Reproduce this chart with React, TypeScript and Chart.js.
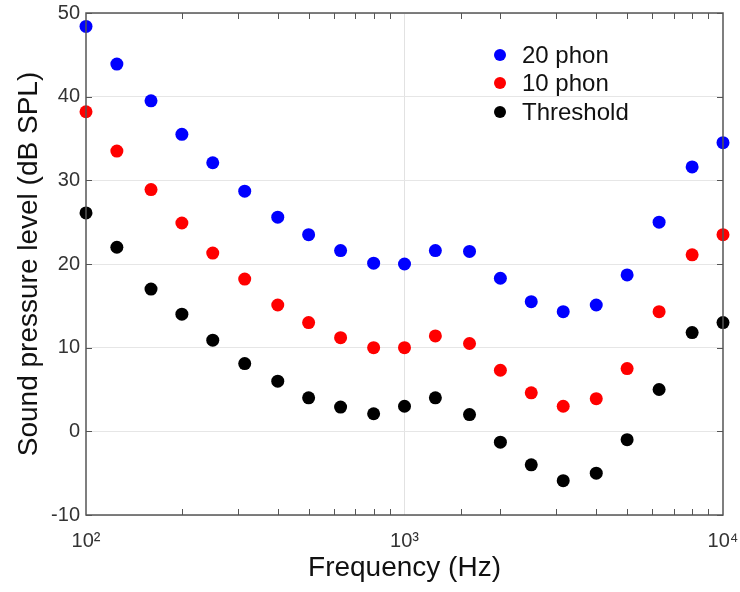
import React, { useEffect, useRef } from "react";
import { Chart, registerables } from "chart.js";

Chart.register(...registerables);

const frequencies = [100, 125, 160, 200, 250, 315, 400, 500, 630, 800, 1000, 1250, 1600, 2000, 2500, 3150, 4000, 5000, 6300, 8000, 10000];
const phon20 = [48.4, 43.9, 39.5, 35.5, 32.1, 28.7, 25.6, 23.5, 21.6, 20.1, 20.0, 21.6, 21.5, 18.3, 15.5, 14.3, 15.1, 18.7, 25.0, 31.6, 34.5];
const phon10 = [38.2, 33.5, 28.9, 24.9, 21.3, 18.2, 15.1, 13.0, 11.2, 10.0, 10.0, 11.4, 10.5, 7.3, 4.6, 3.0, 3.9, 7.5, 14.3, 21.1, 23.5];
const threshold = [26.1, 22.0, 17.0, 14.0, 10.9, 8.1, 6.0, 4.0, 2.9, 2.1, 3.0, 4.0, 2.0, -1.3, -4.0, -5.9, -5.0, -1.0, 5.0, 11.8, 13.0];
const seriesLabels = ["20 phon", "10 phon", "Threshold"];
const seriesColors = ["#0000ff", "#ff0000", "#000000"];
const xTickLabels: Record<number, string> = { 100: "10²", 1000: "10³", 10000: "10⁴" };

const FONT = "'Liberation Sans', Arial, Helvetica, sans-serif";

const isPow10 = (v: number) => Math.abs(Math.log10(v) - Math.round(Math.log10(v))) < 1e-9;

const framePlugin = {
  id: "frame",
  afterDatasetsDraw(chart: any) {
    const { ctx, chartArea: a, scales } = chart;
    const xs = scales.x;
    const ys = scales.y;
    ctx.save();
    ctx.strokeStyle = "#555";
    ctx.lineWidth = 1;
    ctx.beginPath();
    xs.ticks.forEach((t: any) => {
      if (isPow10(t.value)) return;
      const px = Math.round(xs.getPixelForValue(t.value)) + 0.5;
      ctx.moveTo(px, a.bottom);
      ctx.lineTo(px, a.bottom - 6);
      ctx.moveTo(px, a.top);
      ctx.lineTo(px, a.top + 6);
    });
    ys.ticks.forEach((t: any) => {
      const py = Math.round(ys.getPixelForValue(t.value)) + 0.5;
      ctx.moveTo(a.right, py);
      ctx.lineTo(a.right - 6, py);
      ctx.moveTo(a.left, py);
      ctx.lineTo(a.left + 6, py);
    });
    ctx.stroke();
    ctx.lineWidth = 1.5;
    ctx.strokeStyle = "#555";
    ctx.strokeRect(a.left, a.top, a.right - a.left, a.bottom - a.top);
    ctx.restore();
  },
  afterDraw(chart: any) {
    const { ctx } = chart;
    ctx.save();
    ctx.font = `24px ${FONT}`;
    ctx.textBaseline = "middle";
    const lx = 500;
    const ly = [55, 83, 112];
    chart.data.datasets.forEach((ds: any, i: number) => {
      ctx.fillStyle = ds.backgroundColor;
      ctx.beginPath();
      ctx.arc(lx, ly[i], 6, 0, Math.PI * 2);
      ctx.fill();
      ctx.fillStyle = "#111";
      ctx.fillText(ds.label, lx + 22, ly[i] + 1);
    });
    ctx.restore();
  },
};

export default function App() {
  const ref = useRef<HTMLCanvasElement>(null);
  useEffect(() => {
    document.body.style.margin = "0";
    const series = [phon20, phon10, threshold];
    const chart = new Chart(ref.current!, {
      type: "scatter",
      data: {
        datasets: series.map((vals, i) => ({
          label: seriesLabels[i],
          data: frequencies.map((f, j) => ({ x: f, y: vals[j] })),
          backgroundColor: seriesColors[i],
          borderColor: seriesColors[i],
          pointRadius: 6.5,
          borderWidth: 0,
          clip: false as any,
        })),
      },
      options: {
        animation: false,
        responsive: false,
        layout: { padding: { top: 13, right: 17, left: 0, bottom: 0 } },
        plugins: { legend: { display: false }, tooltip: { enabled: false } },
        scales: {
          x: {
            type: "logarithmic",
            min: 100,
            max: 10000,
            border: { display: false },
            grid: {
              color: (c: any) => (c.tick && c.tick.value === 1000 ? "#e2e2e2" : "rgba(0,0,0,0)"),
              drawTicks: false,
            },
            ticks: {
              autoSkip: false,
              maxRotation: 0,
              padding: 14,
              color: "#333",
              font: { family: FONT, size: 20 },
              callback: (v: any) => xTickLabels[v as number] ?? "",
            },
            title: {
              display: true,
              text: "Frequency (Hz)",
              color: "#111",
              font: { family: FONT, size: 28 },
              padding: { top: 0, bottom: 7 },
            },
            afterFit: (s: any) => {
              s.height = 77;
              s.paddingLeft = 0;
              s.paddingRight = 0;
            },
          },
          y: {
            min: -10,
            max: 50,
            border: { display: false },
            grid: { color: "#e6e6e6", drawTicks: false },
            ticks: {
              stepSize: 10,
              padding: 6,
              color: "#333",
              font: { family: FONT, size: 20 },
            },
            title: {
              display: true,
              text: "Sound pressure level (dB SPL)",
              color: "#111",
              font: { family: FONT, size: 28 },
              padding: { top: 12, bottom: 0 },
            },
            afterFit: (s: any) => {
              s.width = 86;
              s.paddingTop = 0;
              s.paddingBottom = 0;
            },
          },
        },
      },
      plugins: [framePlugin],
    });
    return () => chart.destroy();
  }, []);
  return <canvas ref={ref} width={740} height={592} style={{ display: "block" }} />;
}
